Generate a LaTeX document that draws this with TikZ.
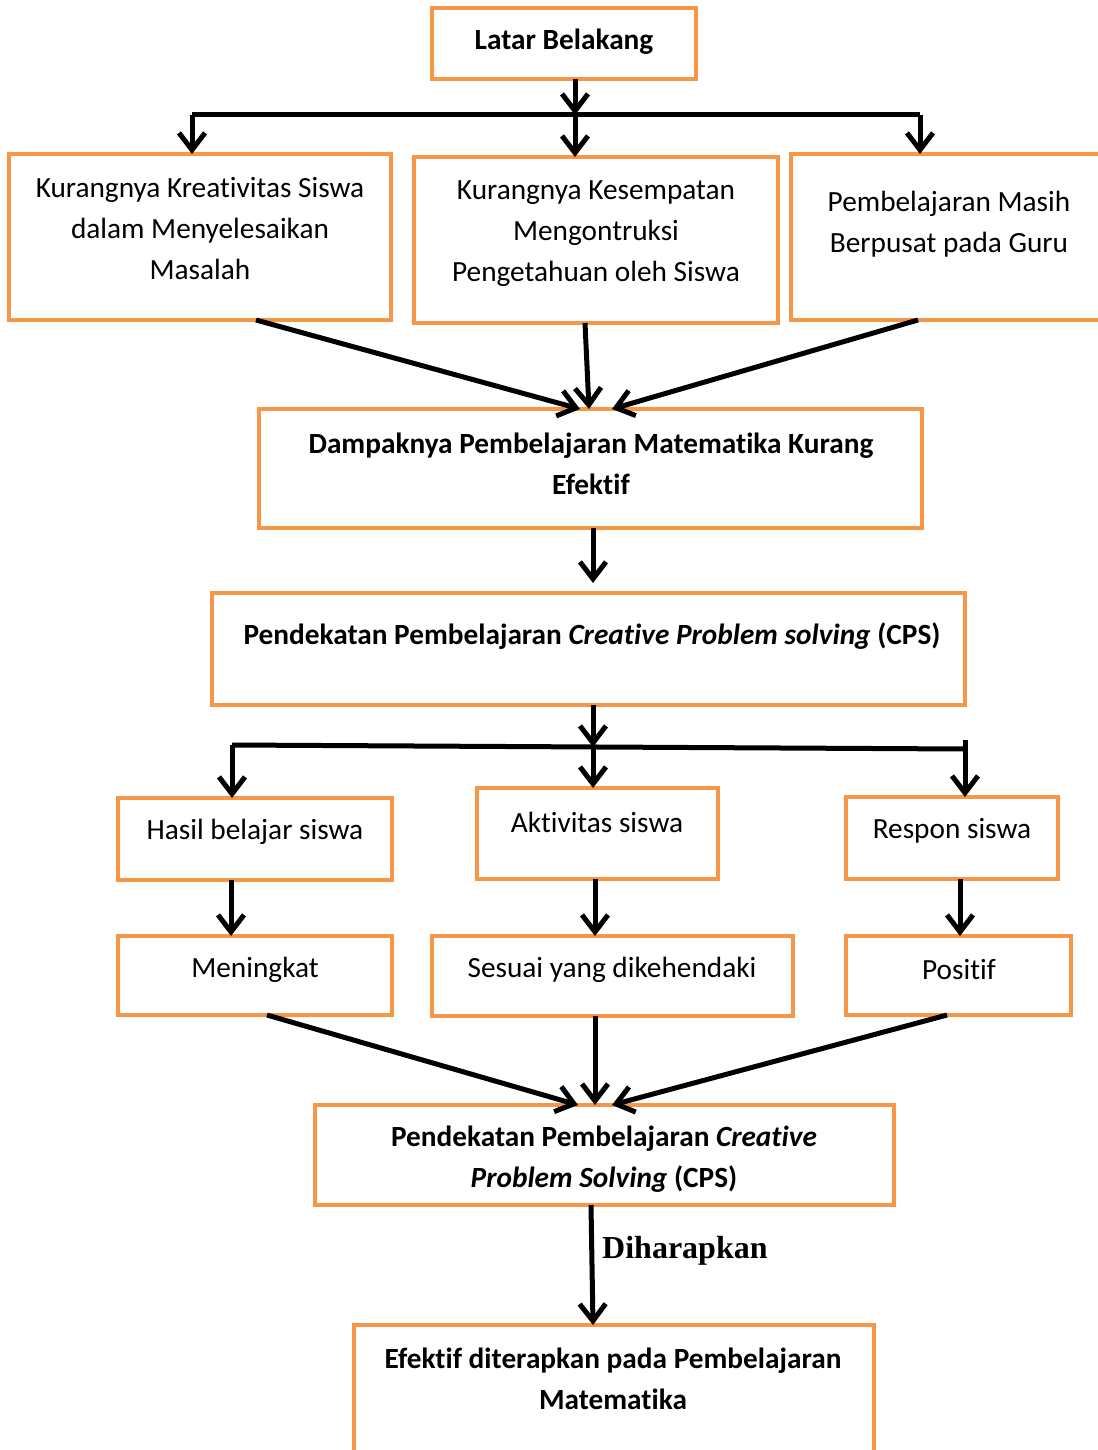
\documentclass[tikz,border=0pt]{standalone}
\usepackage{fontspec}
\setmainfont{Carlito}[Ligatures=NoCommon]
\newfontfamily\timesfont{Liberation Serif}
\usetikzlibrary{arrows.meta,calc}
\definecolor{boxorange}{HTML}{F79646}
\begin{document}
\begin{tikzpicture}[x=1pt,y=-1pt,
  box/.style={draw=boxorange, line width=4pt, rectangle, inner sep=0pt, outer sep=0pt, anchor=north west},
  txt/.style={align=center, font=\fontsize{29.3}{41}\selectfont, inner sep=0pt, yshift=-2pt},
  btxt/.style={align=center, font=\fontsize{29.3}{41}\selectfont\bfseries, inner sep=0pt, yshift=-2pt},
  arr/.style={line width=5pt, -{Straight Barb[length=17pt,width=26pt]}},
  barline/.style={line width=5pt}]
\useasboundingbox (0,0) rectangle (1097,1450);

% boxes
\node[box, minimum width=264, minimum height=71] (lb) at (432,8) {};
\node[box, minimum width=382, minimum height=166] (b1) at (9,154) {};
\node[box, minimum width=364, minimum height=166] (b2) at (414,157) {};
\node[box, minimum width=309, minimum height=166] (b3) at (791,154) {};
\node[box, minimum width=663, minimum height=119] (dmp) at (259,409) {};
\node[box, minimum width=753, minimum height=112] (cps) at (212,593) {};
\node[box, minimum width=274, minimum height=82] (hasil) at (118,798) {};
\node[box, minimum width=241, minimum height=91] (aktiv) at (477,788) {};
\node[box, minimum width=212, minimum height=82] (respon) at (846,797) {};
\node[box, minimum width=274, minimum height=79] (men) at (118,936) {};
\node[box, minimum width=361, minimum height=80] (ses) at (432,936) {};
\node[box, minimum width=225, minimum height=79] (pos) at (846,936) {};
\node[box, minimum width=579, minimum height=100] (cps2) at (315,1105) {};
\node[box, minimum width=520, minimum height=140] (efk) at (354,1325) {};

% texts
\node[btxt] (tlb) at (564,40) {Latar Belakang};
\node[txt] (tb1) at (200,227) {Kurangnya Kreativitas Siswa\\dalam Menyelesaikan\\Masalah};
\node[txt] (tb2) at (596,232) {Kurangnya Kesempatan\\Mengontruksi\\Pengetahuan oleh Siswa};
\node[txt] (tb3) at (949,222) {Pembelajaran Masih\\Berpusat pada Guru};
\node[btxt] (tdmp) at (591,462) {Dampaknya Pembelajaran Matematika Kurang\\Efektif};
\node[btxt] (tcps) at (592,634) {Pendekatan Pembelajaran \textit{Creative Problem solving} (CPS)};
\node[txt] (thasil) at (255,830) {Hasil belajar siswa};
\node[txt] (taktiv) at (597,820) {Aktivitas siswa};
\node[txt] (trespon) at (952,829) {Respon siswa};
\node[txt] (tmen) at (255,968) {Meningkat};
\node[txt] (tses) at (612,968) {Sesuai yang dikehendaki};
\node[txt] (tpos) at (959,968) {Positif};
\node[btxt] (tcps2) at (604,1157) {Pendekatan Pembelajaran \textit{Creative}\\\textit{Problem Solving} (CPS)};
\node[btxt] (tefk) at (613,1377) {Efektif diterapkan pada Pembelajaran\\Matematika};
\node[font=\timesfont\fontsize{32}{36}\selectfont\bfseries, anchor=west, inner sep=0pt, yshift=-2pt] (dih) at (602,1249) {Diharapkan};

% top distribution bar
\coordinate (bar1L) at (192,115);
\coordinate (bar1M) at (575,115);
\coordinate (bar1R) at (920,115);
\draw[barline] (bar1L) -- (bar1R);
\draw[arr] (bar1M |- lb.south) -- (bar1M);
\draw[arr] (bar1L) -- (bar1L |- b1.north);
\draw[arr] (bar1M) -- (bar1M |- b2.north);
\draw[arr] (bar1R) -- (bar1R |- b3.north);

% converge to Dampaknya
\draw[arr] ([xshift=56]b1.south) -- ([xshift=-10.5]dmp.north);
\draw[arr] ([xshift=-11]b2.south) -- ([xshift=-1.5]dmp.north);
\draw[arr] ([xshift=-27.5]b3.south) -- ([xshift=21.5]dmp.north);

% Dampaknya -> CPS
\draw[arr, shorten >=10pt] ([xshift=2.5]dmp.south) -- ([xshift=4.5]cps.north);

% second distribution bar
\coordinate (bar2L) at (232,745);
\coordinate (bar2M) at (593,747);
\coordinate (bar2R) at (965,749);
\coordinate (bar2T) at (965,740);
\draw[barline] (bar2L) -- (bar2R);
\draw[arr] ([xshift=4.5]cps.south) -- (bar2M);
\draw[arr] (bar2L) -- (bar2L |- hasil.north);
\draw[arr] (bar2M) -- (bar2M |- aktiv.north);
\draw[arr] (bar2T) -- (bar2T |- respon.north);

% column arrows
\draw[arr] ([xshift=-24]hasil.south) -- ([xshift=-24]men.north);
\draw[arr] ([xshift=-2.5]aktiv.south) -- ([xshift=-17.5]ses.north);
\draw[arr] ([xshift=8]respon.south) -- ([xshift=1.5]pos.north);

% converge to CPS2
\draw[arr] ([xshift=12]men.south) -- ([xshift=-26.5]cps2.north);
\draw[arr] ([xshift=-17.5]ses.south) -- ([xshift=-9.5]cps2.north);
\draw[arr] ([xshift=-11.5]pos.south) -- ([xshift=7.5]cps2.north);

% CPS2 -> Efektif
\draw[arr] ([xshift=-13.5]cps2.south) -- ([xshift=-21]efk.north);
\end{tikzpicture}
\end{document}
